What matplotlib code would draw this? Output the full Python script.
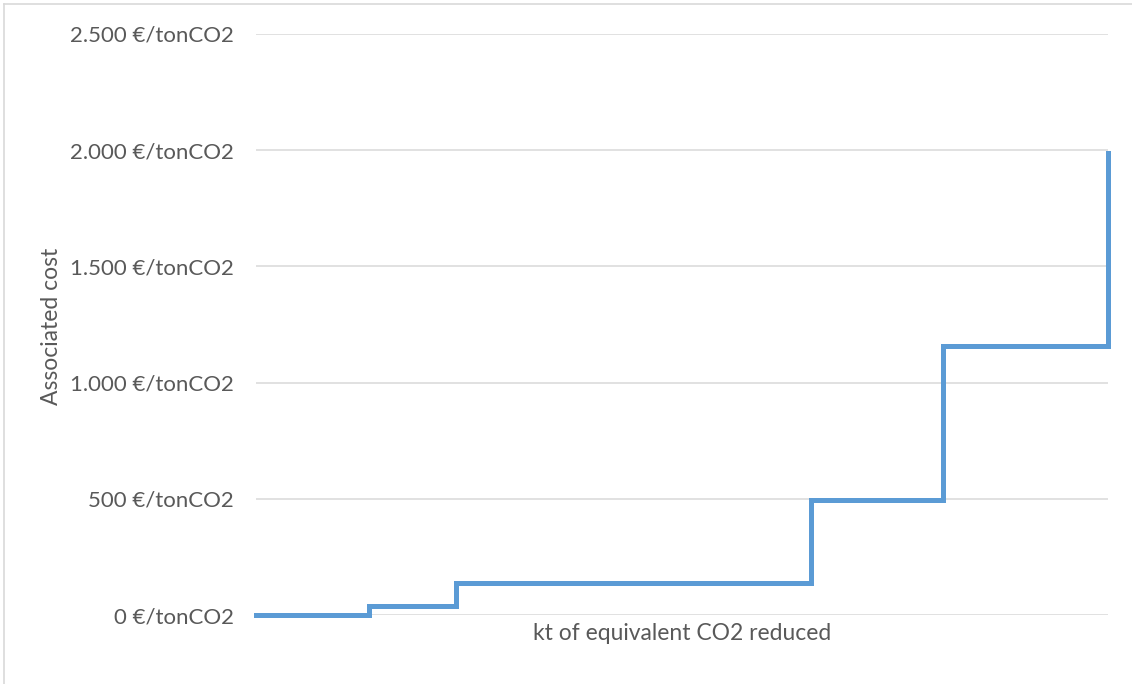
import numpy as np
import matplotlib.pyplot as plt
from matplotlib.lines import Line2D
from matplotlib.ticker import FuncFormatter

# marginal abatement cost curve data
cost = [0, 40, 136, 495, 1158, 1990]          # €/tonCO2
reduction = [113, 87, 355, 132, 165, 0]       # kt CO2 eq. (relative widths)
yticks = [0, 500, 1000, 1500, 2000, 2500]

edges = np.concatenate([[0], np.cumsum(reduction)])
yvals = cost + [cost[-1]]

plt.rcParams['font.family'] = ['Lato', 'DejaVu Sans']
txt = '#595959'
grid = '#D9D9D9'
fs = 16

fig = plt.figure(figsize=(11.32, 6.84), dpi=100)
ax = fig.add_axes([256/1132, 1-615/684, (1108-256)/1132, (615-34)/684])

ax.step(edges, yvals, where='post', color='#5B9BD5', linewidth=3.6,
        clip_on=False, zorder=3, solid_joinstyle='miter')

ax.set_xlim(0, edges[-1])
ax.set_ylim(0, 2500)
ax.set_yticks(yticks)
ax.set_xticks([])
ax.yaxis.set_major_formatter(FuncFormatter(lambda v, p: f'{int(v):,} €/tonCO2'.replace(',', '.')))
ax.tick_params(axis='y', length=0, pad=16, labelsize=fs, labelcolor=txt)
ax.yaxis.grid(True, color=grid, linewidth=1.1)
ax.set_axisbelow(True)
for s in ax.spines.values():
    s.set_visible(False)

ax.set_xlabel('kt of equivalent CO2 reduced', fontsize=16.5, color=txt, labelpad=6)
fig.text(52/1132, 1-326/684, 'Associated cost', rotation=90, fontsize=16.5,
         color=txt, ha='center', va='center')

# chart frame (left and top edges visible)
fig.add_artist(Line2D([4/1132, 4/1132], [0, 1-4/684], color=grid, linewidth=1.2))
fig.add_artist(Line2D([4/1132, 1], [1-4/684, 1-4/684], color=grid, linewidth=1.2))

plt.savefig('out.png', dpi=100, facecolor='white')
